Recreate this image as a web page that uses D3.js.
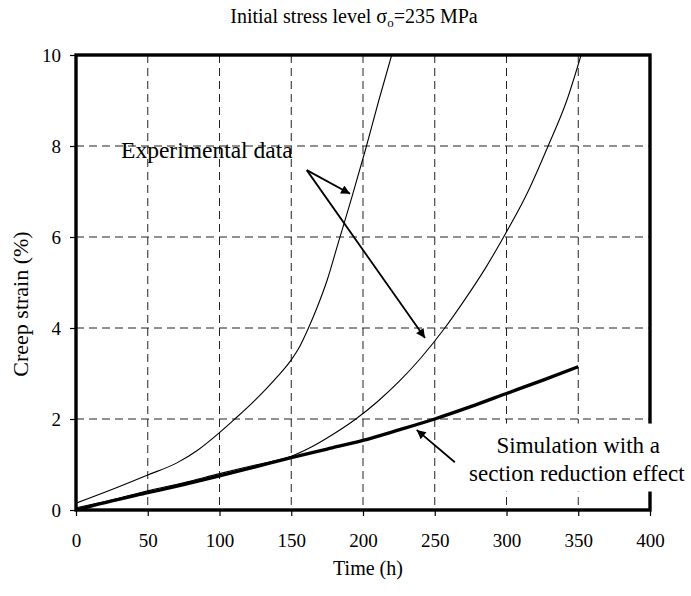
<!DOCTYPE html>
<html>
<head>
<meta charset="utf-8">
<script src="https://cdn.jsdelivr.net/npm/d3@7"></script>
<style>
  body { margin: 0; background: #fff; }
  text { font-family: "Liberation Serif", "Times New Roman", serif; fill: #000; }
</style>
</head>
<body>
<div id="chart"></div>
<script>
// Data
const xTicks = [0, 50, 100, 150, 200, 250, 300, 350, 400];
const yTicks = [0, 2, 4, 6, 8, 10];

// fast experimental curve
const expA_t = [0, 25, 50, 70, 85, 100, 110, 125, 140, 150, 156, 162, 168, 175, 183, 192, 202, 211, 220];
const expA_v = [0.15, 0.45, 0.77, 1.03, 1.32, 1.7, 1.98, 2.42, 2.92, 3.3, 3.6, 4.0, 4.45, 5.05, 5.9, 6.85, 7.95, 9.0, 10.0];

// slow experimental curve
const expB_t = [0, 25, 50, 75, 100, 125, 150, 165, 180, 195, 210, 225, 240, 257, 270, 285, 298, 315, 329, 342, 352];
const expB_v = [0.05, 0.22, 0.42, 0.6, 0.8, 0.99, 1.18, 1.4, 1.68, 2.0, 2.38, 2.82, 3.33, 4.0, 4.58, 5.3, 6.0, 7.0, 8.0, 9.0, 10.0];

// simulation with section reduction
const sim_t = [0, 25, 50, 75, 100, 125, 150, 175, 200, 225, 250, 275, 300, 325, 350];
const sim_v = [0, 0.2, 0.38, 0.56, 0.75, 0.95, 1.15, 1.34, 1.53, 1.76, 2.0, 2.27, 2.56, 2.85, 3.15];

const width = 691;
const height = 596;
const margin = { top: 55, right: 41, bottom: 86, left: 76 };
const innerW = width - margin.left - margin.right;
const innerH = height - margin.top - margin.bottom;

const svg = d3.select("#chart")
    .append("svg")
    .attr("width", width)
    .attr("height", height);

svg.append("defs").append("marker")
    .attr("id", "head")
    .attr("viewBox", "0 0 10 10")
    .attr("refX", 10)
    .attr("refY", 5)
    .attr("markerWidth", 13)
    .attr("markerHeight", 9)
    .attr("markerUnits", "userSpaceOnUse")
    .attr("orient", "auto")
    .append("path")
    .attr("d", "M0,0 L10,5 L0,10 Z")
    .attr("fill", "#000");

const g = svg.append("g")
    .attr("transform", `translate(${margin.left},${margin.top})`);

const x = d3.scaleLinear().domain([0, 400]).range([0, innerW]);
const y = d3.scaleLinear().domain([0, 10]).range([innerH, 0]);

// dashed grid
g.selectAll(".vgrid")
    .data(xTicks.filter(d => d > 0 && d < 400))
    .join("line")
    .attr("x1", d => x(d)).attr("x2", d => x(d))
    .attr("y1", 0).attr("y2", innerH)
    .attr("stroke", "#222")
    .attr("stroke-width", 1)
    .attr("stroke-dasharray", "8,5");

g.selectAll(".hgrid")
    .data(yTicks.filter(d => d > 0 && d < 10))
    .join("line")
    .attr("x1", 0).attr("x2", innerW)
    .attr("y1", d => y(d)).attr("y2", d => y(d))
    .attr("stroke", "#222")
    .attr("stroke-width", 1)
    .attr("stroke-dasharray", "8,5");

// axes
const xAxis = g.append("g")
    .attr("transform", `translate(0,${innerH})`)
    .call(d3.axisBottom(x).tickValues(xTicks).tickSize(6).tickPadding(18));
const yAxis = g.append("g")
    .call(d3.axisLeft(y).tickValues(yTicks).tickSize(6).tickPadding(9));
[xAxis, yAxis].forEach(a => {
    a.select(".domain").remove();
    a.selectAll("line").attr("stroke", "#000").attr("stroke-width", 1.2);
    a.selectAll("text")
        .style("font-family", '"Liberation Serif", "Times New Roman", serif')
        .style("font-size", "19px")
        .attr("fill", "#000");
});

// curves
const line = d3.line()
    .x(d => x(d[0]))
    .y(d => y(d[1]))
    .curve(d3.curveMonotoneX);

const series = [
    { t: expA_t, v: expA_v, w: 1.1 },
    { t: expB_t, v: expB_v, w: 1.1 },
    { t: sim_t, v: sim_v, w: 3.4 }
];

g.append("clipPath").attr("id", "clip")
    .append("rect").attr("width", innerW).attr("height", innerH);

g.selectAll(".curve")
    .data(series)
    .join("path")
    .attr("clip-path", "url(#clip)")
    .attr("d", s => line(s.t.map((t, i) => [t, s.v[i]])))
    .attr("fill", "none")
    .attr("stroke", "#000")
    .attr("stroke-width", s => s.w);

// frame
g.append("rect")
    .attr("width", innerW)
    .attr("height", innerH)
    .attr("fill", "none")
    .attr("stroke", "#000")
    .attr("stroke-width", 3.4);

// annotations (data units)
const arrows = [
    { from: [160.8, 7.47], to: [191, 6.95] },
    { from: [160.8, 7.47], to: [243.2, 3.78] },
    { from: [264, 1.05], to: [237.4, 1.76] }
];

g.selectAll(".arrow")
    .data(arrows)
    .join("line")
    .attr("x1", d => x(d.from[0])).attr("y1", d => y(d.from[1]))
    .attr("x2", d => x(d.to[0])).attr("y2", d => y(d.to[1]))
    .attr("stroke", "#000")
    .attr("stroke-width", 1.8)
    .attr("marker-end", "url(#head)");

g.append("text")
    .attr("x", x(31.4))
    .attr("y", y(7.74))
    .style("font-size", "23.5px")
    .text("Experimental data");

// white box behind the simulation label, it cuts the right border
g.append("rect")
    .attr("x", x(272))
    .attr("y", y(1.9))
    .attr("width", 230)
    .attr("height", 68)
    .attr("fill", "#fff");

const simLabel = g.append("text")
    .attr("text-anchor", "middle")
    .style("font-size", "23px");
simLabel.append("tspan").attr("x", x(350)).attr("y", y(1.25)).text("Simulation with a");
simLabel.append("tspan").attr("x", x(349)).attr("y", y(0.63)).text("section reduction effect");

// titles
const title = svg.append("text")
    .attr("x", 354)
    .attr("y", 23)
    .attr("text-anchor", "middle")
    .style("font-size", "20px");
title.append("tspan").text("Initial stress level σ");
title.append("tspan").attr("dy", 4).style("font-size", "13px").text("o");
title.append("tspan").attr("dy", -4).text("=235 MPa");

svg.append("text")
    .attr("x", 368)
    .attr("y", 575)
    .attr("text-anchor", "middle")
    .style("font-size", "20px")
    .text("Time (h)");

svg.append("text")
    .attr("transform", "translate(28,304) rotate(-90)")
    .attr("text-anchor", "middle")
    .style("font-size", "22px")
    .text("Creep strain (%)");
</script>
</body>
</html>
